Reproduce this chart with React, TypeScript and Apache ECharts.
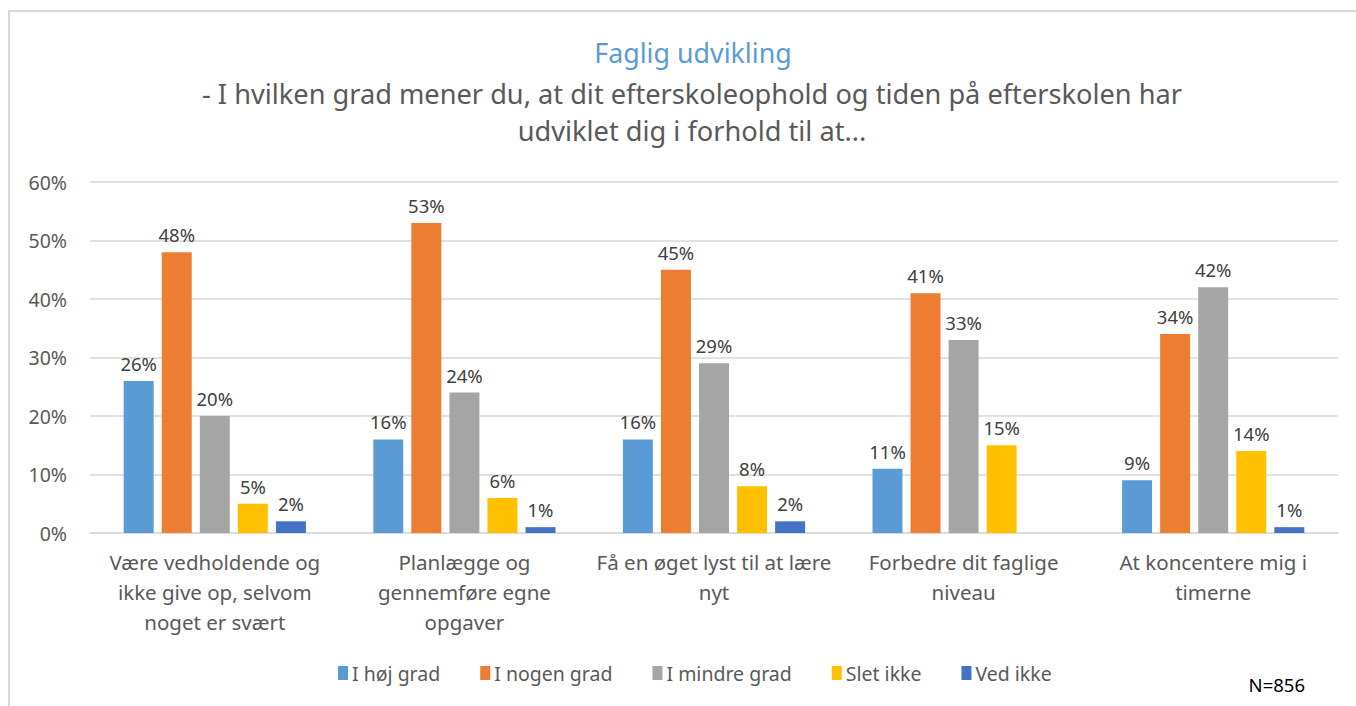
import React, { useEffect, useRef } from "react";
import * as echarts from "echarts";

const categories = [
  "Være vedholdende og\nikke give op, selvom\nnoget er svært",
  "Planlægge og\ngennemføre egne\nopgaver",
  "Få en øget lyst til at lære\nnyt",
  "Forbedre dit faglige\nniveau",
  "At koncentere mig i\ntimerne",
];
const seriesNames = ["I høj grad", "I nogen grad", "I mindre grad", "Slet ikke", "Ved ikke"];
const hoejGrad = [26, 16, 16, 11, 9];
const nogenGrad = [48, 53, 45, 41, 34];
const mindreGrad = [20, 24, 29, 33, 42];
const sletIkke = [5, 6, 8, 15, 14];
const vedIkke: (number | null)[] = [2, 1, 2, null, 1];
const colors = ["#5B9BD5", "#ED7D31", "#A5A5A5", "#FFC000", "#4472C4"];
const yTicks = [0, 10, 20, 30, 40, 50, 60];

const FONT = "'Noto Sans', 'Open Sans', sans-serif";

export default function App() {
  const ref = useRef<HTMLDivElement>(null);
  useEffect(() => {
    if (!ref.current) return;
    const chart = echarts.init(ref.current, null, { renderer: "svg" });
    const data = [hoejGrad, nogenGrad, mindreGrad, sletIkke, vedIkke];
    chart.setOption({
      animation: false,
      backgroundColor: "#fff",
      textStyle: { fontFamily: FONT },
      graphic: [
        {
          type: "rect",
          shape: { x: 9, y: 11, width: 1360, height: 720 },
          style: { fill: "none", stroke: "#D9D9D9", lineWidth: 2 },
          silent: true,
        },
        {
          type: "text",
          x: 693,
          y: 52,
          style: {
            text: "Faglig udvikling",
            fill: "#5B9BD5",
            fontSize: 26.8,
            fontFamily: FONT,
            align: "center",
            verticalAlign: "middle",
          },
        },
        {
          type: "text",
          x: 692,
          y: 93,
          style: {
            text: "- I hvilken grad mener du, at dit efterskoleophold og tiden på efterskolen har",
            fill: "#595959",
            fontSize: 27.2,
            fontFamily: FONT,
            align: "center",
            verticalAlign: "middle",
          },
        },
        {
          type: "text",
          x: 692,
          y: 130,
          style: {
            text: "udviklet dig i forhold til at...",
            fill: "#595959",
            fontSize: 27.2,
            fontFamily: FONT,
            align: "center",
            verticalAlign: "middle",
          },
        },
        {
          type: "text",
          x: 1305,
          y: 684,
          style: {
            text: "N=856",
            fill: "#000",
            fontSize: 18.5,
            fontFamily: FONT,
            align: "right",
            verticalAlign: "middle",
          },
        },
      ],
      legend: {
        bottom: 18,
        left: 333,
        itemWidth: 10,
        itemHeight: 14,
        itemGap: 40,
        icon: "rect",
        textStyle: { color: "#595959", fontSize: 19.5, fontFamily: FONT, padding: [0, 0, 0, -1] },
        data: seriesNames,
      },
      grid: { left: 90, right: 18, top: 182, bottom: 173, containLabel: false },
      xAxis: {
        type: "category",
        data: categories,
        axisLine: { lineStyle: { color: "#D9D9D9", width: 1.5 } },
        axisTick: { show: false },
        axisLabel: {
          color: "#595959",
          fontSize: 20.5,
          lineHeight: 30,
          margin: 14,
          interval: 0,
          fontFamily: FONT,
        },
      },
      yAxis: {
        type: "value",
        min: yTicks[0],
        max: yTicks[yTicks.length - 1],
        interval: 10,
        axisLine: { show: false },
        axisTick: { show: false },
        splitLine: { lineStyle: { color: "#D9D9D9", width: 1.5 } },
        axisLabel: {
          color: "#595959",
          fontSize: 19.5,
          margin: 23,
          formatter: (v: number) => `${v}%`,
          fontFamily: FONT,
        },
      },
      series: seriesNames.map((name, i) => ({
        name,
        type: "bar",
        data: data[i],
        barGap: "27%",
        barCategoryGap: "27%",
        itemStyle: { color: colors[i] },
        label: {
          show: true,
          position: "top",
          distance: 8,
          color: "#404040",
          fontSize: 18.5,
          fontFamily: FONT,
          formatter: (p: any) => (p.value == null ? "" : `${p.value}%`),
        },
      })),
    });
    return () => chart.dispose();
  }, []);
  return (
    <div
      ref={ref}
      style={{ position: "fixed", left: 0, top: 0, width: 1356, height: 706 }}
    />
  );
}
